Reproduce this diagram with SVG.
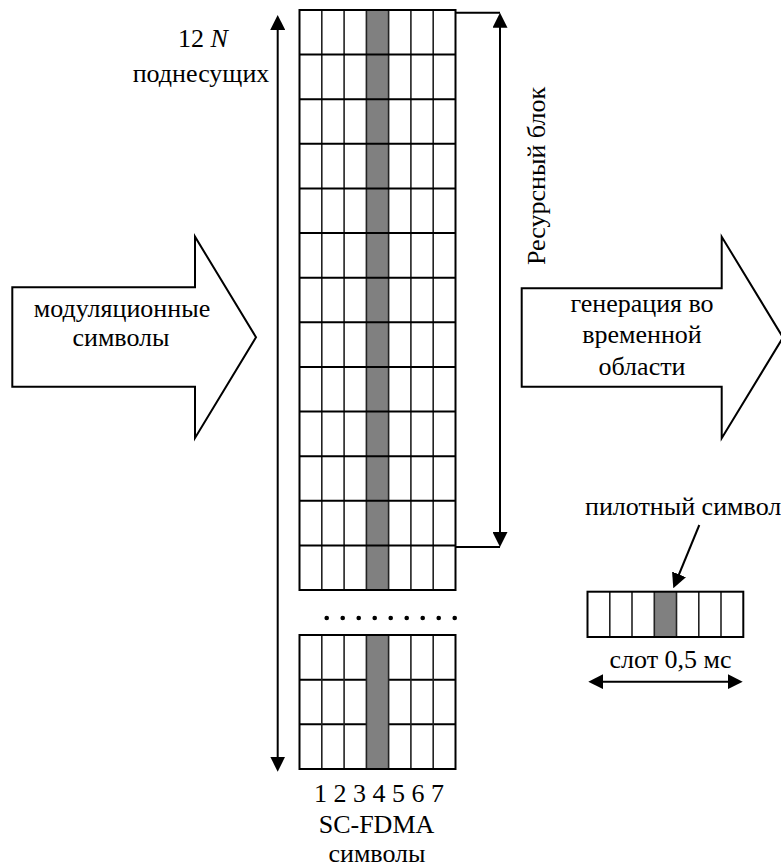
<svg xmlns="http://www.w3.org/2000/svg" width="781" height="866" viewBox="0 0 781 866">
<style>
text{font-family:"Liberation Serif",Tinos,"Times New Roman",Times,"Noto Serif","DejaVu Serif",FreeSerif,serif;font-size:26px;fill:#000}
.c{text-anchor:middle}
.ln{stroke:#000;stroke-width:2;fill:none}
.gl{stroke:#000;stroke-width:2;fill:none}
.gv{stroke:#222;stroke-width:1.6;fill:none}
.pil{fill:#808080;stroke:none}
.big{fill:#fff;stroke:#000;stroke-width:2;stroke-linejoin:miter}
</style>
<defs>
<marker id="ah" viewBox="0 0 15 15" refX="5" refY="7.5" markerWidth="15" markerHeight="15" markerUnits="userSpaceOnUse" orient="auto-start-reverse">
<path d="M0,0 L15,7.5 L0,15 z" fill="#000"/>
</marker>
</defs>
<rect width="781" height="866" fill="#fff"/>

<g id="input-arrow">
<polygon class="big" points="12.3,287.3 195,287.3 195,236.7 256,337.3 195,438 195,386.7 12.3,386.7"/>
<text class="c" x="122" y="316.7">модуляционные</text>
<text class="c" x="121" y="346">символы</text>
</g>

<g id="output-arrow">
<polygon class="big" points="521.7,288.3 721.7,288.3 721.7,236.7 783,337.5 721.7,438.3 721.7,386.7 521.7,386.7"/>
<text class="c" x="642" y="311.7">генерация во</text>
<text class="c" x="642" y="343.3">временной</text>
<text class="c" x="642" y="375">области</text>
</g>

<g id="resource-grid">
<rect x="299.5" y="10" width="156" height="580" fill="#fff"/>
<rect class="pil" x="366.4" y="10" width="22.3" height="580"/>
<path class="gv" d="M321.8,10V590M344.1,10V590M366.4,10V590M388.6,10V590M410.9,10V590M433.2,10V590"/>
<path class="gl" d="M299.5,54.6H455.5M299.5,99.2H455.5M299.5,143.8H455.5M299.5,188.5H455.5M299.5,233.1H455.5M299.5,277.7H455.5M299.5,322.3H455.5M299.5,366.9H455.5M299.5,411.5H455.5M299.5,456.2H455.5M299.5,500.8H455.5M299.5,545.4H455.5"/>
<rect class="gl" x="299.5" y="10" width="156" height="580"/>
</g>

<g id="ellipsis">
<circle cx="326.7" cy="618" r="2.3"/><circle cx="342.7" cy="618" r="2.3"/><circle cx="358.7" cy="618" r="2.3"/>
<circle cx="374.7" cy="618" r="2.3"/><circle cx="390.7" cy="618" r="2.3"/><circle cx="406.7" cy="618" r="2.3"/>
<circle cx="422.7" cy="618" r="2.3"/><circle cx="438.7" cy="618" r="2.3"/><circle cx="454.7" cy="618" r="2.3"/>
</g>

<g id="lower-grid">
<rect x="299.5" y="635" width="156" height="134" fill="#fff"/>
<path class="gl" d="M299.5,679.7H455.5M299.5,724.3H455.5"/>
<rect class="pil" x="366.4" y="635" width="22.3" height="134"/>
<path class="gv" d="M321.8,635V769M344.1,635V769M366.4,635V769M388.6,635V769M410.9,635V769M433.2,635V769"/>
<rect class="gl" x="299.5" y="635" width="156" height="134"/>
</g>

<g id="subcarrier-label">
<text class="c" x="203" y="46.7">12 <tspan font-style="italic">N</tspan></text>
<text class="c" x="201" y="81.7">поднесущих</text>
</g>

<g id="resource-block-label">
<text class="c" transform="translate(545,176) rotate(-90)">Ресурсный блок</text>
</g>

<g id="symbol-labels">
<text class="c" x="379" y="801.7">1 2 3 4 5 6 7</text>
<text class="c" x="376.5" y="833.3">SC-FDMA</text>
<text class="c" x="377" y="861.7">символы</text>
</g>

<g id="slot">
<rect x="587.5" y="591.7" width="155.8" height="45.3" fill="#fff"/>
<rect class="pil" x="654.3" y="591.7" width="22.2" height="45.3"/>
<path class="gv" d="M609.8,591.7V637M632,591.7V637M654.3,591.7V637M676.5,591.7V637M698.8,591.7V637M721,591.7V637"/>
<rect class="gl" x="587.5" y="591.7" width="155.8" height="45.3"/>
<text x="585" y="515">пилотный символ</text>
<text class="c" x="670.5" y="668.3">слот 0,5 мс</text>
</g>

<g id="connectors">
<line class="ln" x1="277.7" y1="25" x2="277.7" y2="761.7" marker-start="url(#ah)" marker-end="url(#ah)"/>
<path class="ln" d="M455.5,12.7H500M455.5,547H500"/>
<line class="ln" x1="500" y1="22.7" x2="500" y2="537" marker-start="url(#ah)" marker-end="url(#ah)"/>
<line class="ln" x1="699.3" y1="525" x2="677.1" y2="579" marker-end="url(#ah)"/>
<line class="ln" x1="598.3" y1="681.7" x2="732.7" y2="681.7" marker-start="url(#ah)" marker-end="url(#ah)"/>
</g>
</svg>
